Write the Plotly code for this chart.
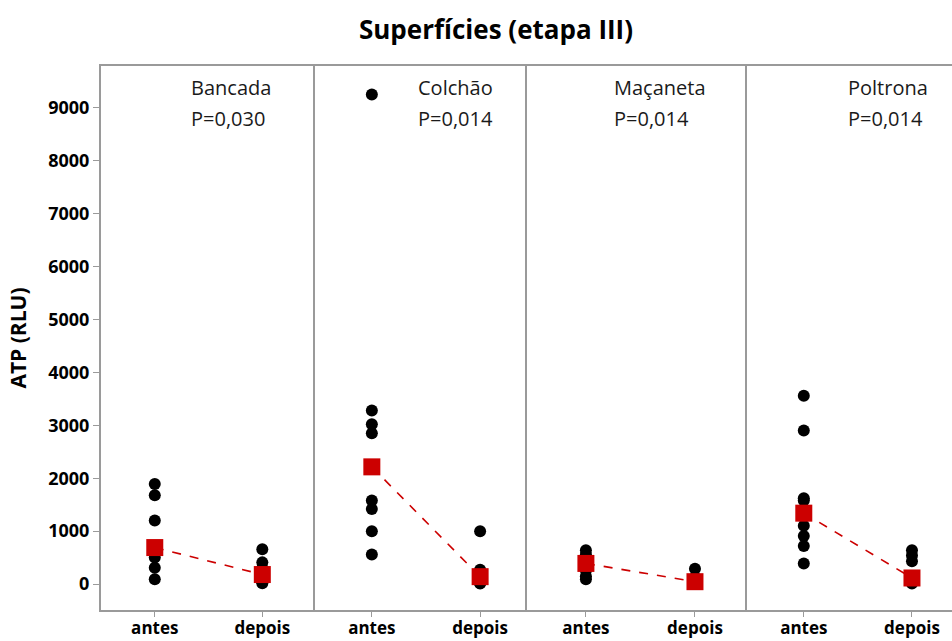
import numpy as np
import plotly.graph_objects as go

# ---- data ----
superficies = ["Bancada", "Colchão", "Maçaneta", "Poltrona"]
p_values = ["P=0,030", "P=0,014", "P=0,014", "P=0,014"]
grupos = ["antes", "depois"]

bancada_antes = [1890, 1680, 1200, 690, 500, 310, 90]
bancada_depois = [660, 410, 300, 180, 100, 40, 15]
colchao_antes = [9250, 3280, 3020, 2850, 1580, 1420, 1000, 560]
colchao_depois = [1000, 270, 200, 160, 120, 60, 20, 10]
macaneta_antes = [640, 560, 470, 390, 260, 150, 90]
macaneta_depois = [290, 130, 70, 45, 30, 20, 10]
poltrona_antes = [3560, 2900, 1620, 1580, 1100, 910, 720, 390]
poltrona_depois = [640, 540, 430, 140, 90, 60, 30, 10]

y_ticks = [0, 1000, 2000, 3000, 4000, 5000, 6000, 7000, 8000, 9000]

dados = [
    (bancada_antes, bancada_depois),
    (colchao_antes, colchao_depois),
    (macaneta_antes, macaneta_depois),
    (poltrona_antes, poltrona_depois),
]

# ---- layout geometry (pixels) ----
W, H = 952, 641
ML, MR, MT, MB = 101, 0, 66, 31
PW = W - ML - MR
edges = [101, 315, 527, 747, 952]
x_ranges = [[-0.5, 1.49], [-0.525, 1.433], [-0.54, 1.477], [-0.525, 1.37]]
label_x = [189, 416, 612, 846]

FONT = "Open Sans"
GRAY = "#9a9a9a"
RED = "#cc0000"

fig = go.Figure()
layout = dict(
    width=W, height=H,
    margin=dict(l=ML, r=MR, t=MT, b=MB, autoexpand=False),
    paper_bgcolor="white", plot_bgcolor="white",
    showlegend=False,
    title=dict(text="<b>Superfícies (etapa III)</b>", x=(496) / W, xanchor="center",
               y=1 - 30 / H, yanchor="middle",
               font=dict(family=FONT, size=26, color="black")),
    font=dict(family=FONT, color="black"),
)

annotations = []
for i, (nome, (antes, depois)) in enumerate(zip(superficies, dados)):
    xa = "x" if i == 0 else f"x{i+1}"
    ya = "y" if i == 0 else f"y{i+1}"
    # individual values
    fig.add_trace(go.Scatter(
        x=[grupos[0]] * len(antes) + [grupos[1]] * len(depois),
        y=antes + depois,
        mode="markers",
        marker=dict(color="black", size=12, symbol="circle"),
        xaxis=xa, yaxis=ya, hoverinfo="y",
    ))
    # medians connected
    med = [float(np.median(antes)), float(np.median(depois))]
    fig.add_trace(go.Scatter(
        x=grupos, y=med,
        mode="lines+markers",
        line=dict(color=RED, width=1.6, dash="dash"),
        marker=dict(color=RED, size=17, symbol="square"),
        xaxis=xa, yaxis=ya, hoverinfo="y",
    ))
    dom = [(edges[i] - ML) / PW, (edges[i + 1] - ML) / PW]
    xkey = "xaxis" if i == 0 else f"xaxis{i+1}"
    ykey = "yaxis" if i == 0 else f"yaxis{i+1}"
    layout[xkey] = dict(
        domain=dom, anchor=ya, type="category",
        categoryorder="array", categoryarray=grupos,
        range=x_ranges[i], showgrid=False, zeroline=False,
        showline=True, linecolor=GRAY, linewidth=2, mirror=True,
        ticks="outside", ticklen=5, tickcolor=GRAY, tickwidth=1,
        ticklabelstandoff=-3,
        tickfont=dict(family=FONT, size=17, color="black", weight="bold"),
        fixedrange=True, automargin=False,
    )
    ydict = dict(
        anchor=xa, domain=[0, 1], range=[-490, 9790],
        showgrid=False, zeroline=False,
        showline=True, linecolor=GRAY, linewidth=2,
        tickvals=y_ticks, fixedrange=True, automargin=False,
    )
    if i == 0:
        ydict.update(
            ticks="outside", ticklen=6, tickcolor=GRAY, tickwidth=1,
            tickfont=dict(family=FONT, size=18, color="black", weight="bold"),
            title=dict(text="<b>ATP (RLU)</b>", standoff=16,
                       font=dict(family=FONT, size=21, color="black")),
        )
    else:
        ydict.update(matches="y", showticklabels=False, ticks="")
    layout[ykey] = ydict

    for j, txt in enumerate([nome, p_values[i]]):
        annotations.append(dict(
            text=txt, xref="paper", yref="paper",
            x=(label_x[i] - ML) / PW, xanchor="left",
            y=1 - ((88 + 30 * j) - MT) / (H - MT - MB), yanchor="middle",
            showarrow=False,
            font=dict(family=FONT, size=20, color="#1a1a1a"),
        ))

layout["annotations"] = annotations
fig.update_layout(**layout)
fig.write_html("out.html", config={"displayModeBar": False})
